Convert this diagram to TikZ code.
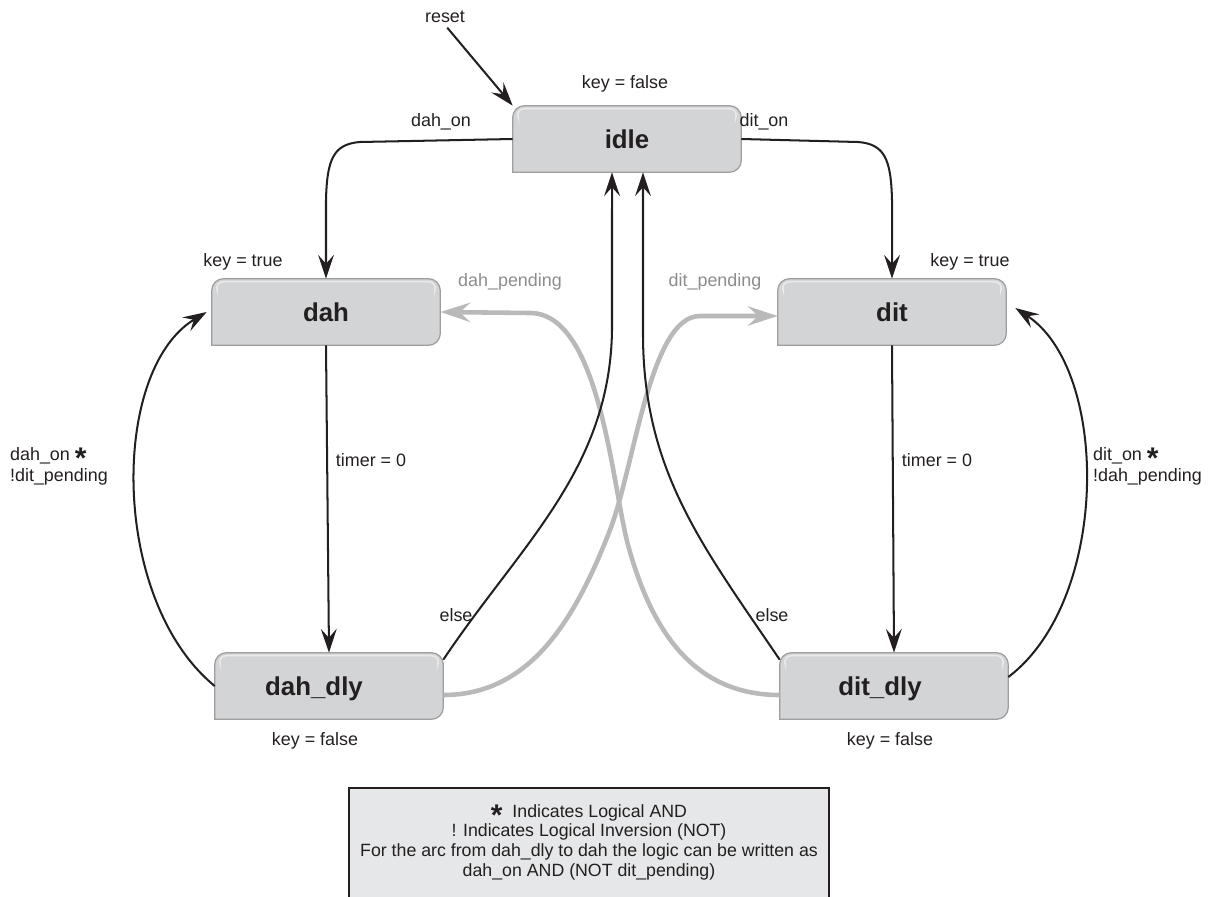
\documentclass[tikz,border=0pt]{standalone}
\usepackage{fontspec}
\setmainfont{Liberation Sans}
\usetikzlibrary{arrows.meta,backgrounds}
\definecolor{boxfill}{HTML}{D3D4D6}
\definecolor{boxline}{HTML}{9E9E9E}
\definecolor{ink}{HTML}{231F20}
\definecolor{pend}{HTML}{B9B9B9}
\definecolor{pendtext}{HTML}{8C8C8C}
\definecolor{legfill}{HTML}{E6E7E8}
\newcommand{\myast}{\smash{\raisebox{-5pt}{\fontsize{17}{17}\selectfont\bfseries *}}}
\newcommand{\statebox}[1]{%
  \path[fill=boxfill, draw=boxline, line width=0.7pt]
    (#1.south west) [rounded corners=0.24cm] -- (#1.north west) -- (#1.north east)
    -- (#1.south east) [sharp corners] -- cycle;
  \draw[white, opacity=0.55, line width=0.8pt]
    ([xshift=0.1cm,yshift=-0.2cm]#1.north west) [rounded corners=0.18cm]
    -- ([xshift=0.06cm,yshift=-0.06cm]#1.north west) -- ([xshift=-0.06cm,yshift=-0.06cm]#1.north east)
    -- ([xshift=-0.1cm,yshift=-0.2cm]#1.north east);}
\begin{document}
\begin{tikzpicture}[x=0.02cm,y=-0.02cm,
  state/.style={rectangle, minimum width=4.56cm, minimum height=1.32cm, inner sep=0pt,
    text height=0.38cm, text depth=0pt,
    font=\fontsize{14.7}{16}\selectfont\bfseries, text=ink},
  lbl/.style={font=\fontsize{10.2}{12}\selectfont, text=ink, inner sep=1pt},
  glbl/.style={lbl, text=pendtext},
  arr/.style={draw=ink, line width=1.15pt, -{Stealth[length=13.5pt,width=9pt,inset=5pt]}},
  garr/.style={draw=pend, line width=2.6pt, -{Stealth[length=17pt,width=11pt,inset=6pt]}}]
\useasboundingbox (0,0) rectangle (1227,896);

% states
\node[state] (idle) at (627,139) {idle};
\node[state] (dah) at (326,312) {dah};
\node[state] (dit) at (892,312) {dit};
\node[state] (dah_dly) at (329,686) {\hspace*{-0.6cm}dah\_dly};
\node[state] (dit_dly) at (894,686) {\hspace*{-0.56cm}dit\_dly};
\begin{pgfonlayer}{background}
\foreach \n in {idle,dah,dit,dah_dly,dit_dly} {\statebox{\n}}
\end{pgfonlayer}

% labels
\node[lbl] (lreset) at (445,17) {reset};
\node[lbl] (lidle) at (625,84) {key = false};
\node[lbl] (ldahon) at (441,122) {dah\_on};
\node[lbl] (lditon) at (764,122) {dit\_on};
\node[lbl] (ldahkey) at (243,262) {key = true};
\node[lbl] (lditkey) at (970,262) {key = true};
\node[glbl] (ldahp) at (510,282) {dah\_pending};
\node[glbl] (lditp) at (715,282) {dit\_pending};
\node[lbl] (ltimer1) at (371,460) {timer = 0};
\node[lbl] (ltimer2) at (937,460) {timer = 0};
\node[lbl] (lelse1) at (456,615) {else};
\node[lbl] (lelse2) at (772,615) {else};
\node[lbl] (ldahdlykey) at (315,741) {key = false};
\node[lbl] (lditdlykey) at (890,741) {key = false};
\node[lbl, align=left, anchor=west] (ldahcond) at (8,466) {dah\_on \myast\\!dit\_pending};
\node[lbl, align=left, anchor=west] (lditcond) at (1091,466) {dit\_on \myast\\!dah\_pending};

% gray pending arcs
\draw[garr] ([yshift=-0.18cm]dit_dly.west) .. controls (690,695) and (650,625) .. (628,545)
  .. controls (612,485) and (600,313) .. (530,313) -- (dah.east);
\draw[garr] ([yshift=-0.18cm]dah_dly.east) .. controls (530,695) and (575,620) .. (610,530)
  .. controls (635,465) and (650,316) .. (700,316) -- ([yshift=-0.08cm]dit.west);

% black transitions
\draw[arr, shorten <=2pt] (lreset.south) -- (idle.north west);
\draw[arr] (idle.west) -- (360,142) .. controls (333,144) and (327,160) .. (326,200) -- (dah.north);
\draw[arr] (idle.east) -- (858,142) .. controls (885,144) and (891,160) .. (892,200) -- (dit.north);
\draw[arr] (dah.south) -- (dah_dly.north);
\draw[arr] (dit.south) -- (dit_dly.north);
\draw[arr] (dah_dly.west) .. controls (110,600) and (110,370) .. ([xshift=-0.1cm]dah.west);
\draw[arr] ([yshift=0.18cm]dit_dly.east) .. controls (1110,600) and (1110,370) .. ([xshift=0.18cm,yshift=0.08cm]dit.east);
\draw[arr] ([yshift=-0.14cm]dah_dly.north east) .. controls (520,545) and (610,470) .. (612,330) -- ([xshift=-0.3cm]idle.south);
\draw[arr] ([yshift=-0.14cm]dit_dly.north west) .. controls (702,545) and (642,470) .. (643,330) -- ([xshift=0.32cm]idle.south);

% legend
\node[draw=ink, line width=1.2pt, fill=legfill, minimum width=9.6cm, minimum height=2.6cm,
  anchor=north, inner sep=0pt] (legbox) at (589,787) {};
\node[lbl, align=center, font=\fontsize{10.1}{11.2}\selectfont] (legtext) at (589,842)
  {\myast\ \ Indicates Logical AND\\! Indicates Logical Inversion (NOT)\\
   For the arc from dah\_dly to dah the logic can be written as\\dah\_on AND (NOT dit\_pending)};
\end{tikzpicture}
\end{document}
